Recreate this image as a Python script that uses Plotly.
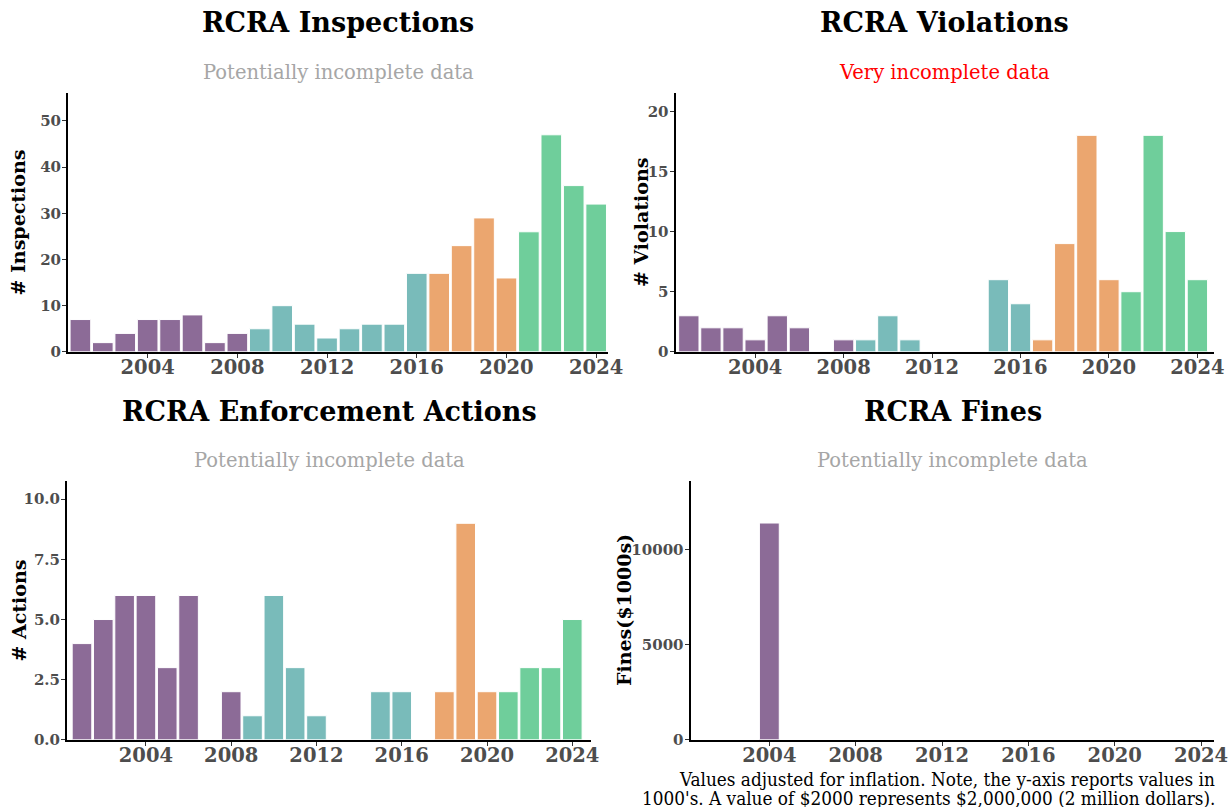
import plotly.graph_objects as go

years = list(range(2001, 2025))
inspections = [7, 2, 4, 7, 7, 8, 2, 4, 5, 10, 6, 3, 5, 6, 6, 17, 17, 23, 29, 16, 26, 47, 36, 32]
violations = [3, 2, 2, 1, 3, 2, 0, 1, 1, 3, 1, 0, 0, 0, 6, 4, 1, 9, 18, 6, 5, 18, 10, 6]
actions = [4, 5, 6, 6, 3, 6, 0, 2, 1, 6, 3, 1, 0, 0, 2, 2, 0, 2, 9, 2, 2, 3, 3, 5]
fines = [0, 0, 0, 11400, 0, 0, 0, 0, 0, 0, 0, 0, 0, 0, 0, 0, 0, 0, 0, 0, 0, 0, 0, 0]

x_ticks = [2004, 2008, 2012, 2016, 2020, 2024]

caption_lines = [
    "Values adjusted for inflation. Note, the y-axis reports values in",
    "1000's. A value of $2000 represents $2,000,000 (2 million dollars).",
]

PURPLE = "#8c6b97"
TEAL = "#79bbba"
ORANGE = "#eba66f"
GREEN = "#6fce9b"


def year_color(y):
    if y <= 2008:
        return PURPLE
    if y <= 2016:
        return TEAL
    if y <= 2020:
        return ORANGE
    return GREEN


colors = [year_color(y) for y in years]

# placement is done as fractions of the 1231x807 reference frame
RW, RH = 1231, 807
FIG_W, FIG_H = 1247, 818
SERIF = "DejaVu Serif"


def px(x):
    return x / RW


def py(y):
    return 1 - y / RH


panels = [
    dict(vals=inspections, xd=(68, 608), yd=(93, 351), xr=[2000.45, 2024.55], yr=[0, 56],
         yticks=[0, 10, 20, 30, 40, 50], yfmt="d", title="RCRA Inspections", tx=338, ty=22,
         sub="Potentially incomplete data", subc="#a6a6a6", sy=72, ylab="# Inspections", lx=18),
    dict(vals=violations, xd=(675, 1213), yd=(93, 351), xr=[2000.4, 2024.75], yr=[0, 21.5],
         yticks=[0, 5, 10, 15, 20], yfmt="d", title="RCRA Violations", tx=944, ty=22,
         sub="Very incomplete data", subc="#ff0000", sy=72, ylab="# Violations", lx=640),
    dict(vals=actions, xd=(67, 591), yd=(480, 738), xr=[2000.3, 2024.9], yr=[0, 10.75],
         yticks=[0, 2.5, 5, 7.5, 10], yfmt=".1f", title="RCRA Enforcement Actions", tx=329, ty=410,
         sub="Potentially incomplete data", subc="#a6a6a6", sy=459, ylab="# Actions", lx=18),
    dict(vals=fines, xd=(690, 1213), yd=(480, 738), xr=[2000.35, 2024.6], yr=[0, 13600],
         yticks=[0, 5000, 10000], yfmt="d", title="RCRA Fines", tx=952, ty=410,
         sub="Potentially incomplete data", subc="#a6a6a6", sy=459, ylab="Fines($1000s)", lx=623),
]

fig = go.Figure()
annotations = []
layout = {}
for i, p in enumerate(panels, start=1):
    xa = "x" if i == 1 else f"x{i}"
    ya = "y" if i == 1 else f"y{i}"
    fig.add_trace(go.Bar(
        x=years, y=p["vals"], xaxis=xa, yaxis=ya,
        marker=dict(color=colors, line=dict(color="white", width=1)),
        width=0.92, showlegend=False, hoverinfo="x+y",
    ))
    xkey = "xaxis" if i == 1 else f"xaxis{i}"
    ykey = "yaxis" if i == 1 else f"yaxis{i}"
    layout[xkey] = dict(
        domain=[px(p["xd"][0]), px(p["xd"][1])], anchor=ya, range=p["xr"],
        tickmode="array", tickvals=x_ticks, ticks="outside", ticklen=4, tickcolor="#333333",
        ticklabelstandoff=-7,
        showline=True, linecolor="black", linewidth=2, showgrid=False, zeroline=False,
        tickfont=dict(family=SERIF, size=19.5, color="#4d4d4d", weight="bold"),
    )
    layout[ykey] = dict(
        domain=[py(p["yd"][1]), py(p["yd"][0])], anchor=xa, range=p["yr"],
        tickmode="array", tickvals=p["yticks"], tickformat=p["yfmt"], ticks="outside",
        ticklen=4, tickcolor="#333333", ticklabelstandoff=-2,
        showline=True, linecolor="black", linewidth=2, showgrid=False, zeroline=False,
        tickfont=dict(family=SERIF, size=15, color="#4d4d4d", weight="bold"),
    )
    annotations.append(dict(
        text=f"<b>{p['title']}</b>", x=px(p["tx"]), y=py(p["ty"]), xref="paper", yref="paper",
        showarrow=False, xanchor="center", yanchor="middle",
        font=dict(family=SERIF, size=27, color="black"),
    ))
    annotations.append(dict(
        text=p["sub"], x=px(p["tx"]), y=py(p["sy"]), xref="paper", yref="paper",
        showarrow=False, xanchor="center", yanchor="middle",
        font=dict(family=SERIF, size=19.5, color=p["subc"]),
    ))
    annotations.append(dict(
        text=f"<b>{p['ylab']}</b>", x=px(p["lx"]), y=py((p["yd"][0] + p["yd"][1]) / 2),
        xref="paper", yref="paper", showarrow=False, textangle=-90,
        xanchor="center", yanchor="middle",
        font=dict(family=SERIF, size=19, color="black"),
    ))

for line, ly in zip(caption_lines, [778, 797]):
    annotations.append(dict(
        text=line, x=px(1216), y=py(ly), xref="paper", yref="paper", showarrow=False,
        xanchor="right", yanchor="middle", align="right",
        font=dict(family="DejaVu Serif Condensed, " + SERIF, size=18.8, color="black"),
    ))

fig.update_layout(
    width=FIG_W, height=FIG_H, margin=dict(l=0, r=0, t=0, b=0),
    paper_bgcolor="white", plot_bgcolor="white", bargap=0.08,
    annotations=annotations, **layout,
)

fig.write_html(
    "out.html",
    config={"displayModeBar": False},
    post_script="document.body.style.margin='0';document.body.style.overflow='hidden';",
)
